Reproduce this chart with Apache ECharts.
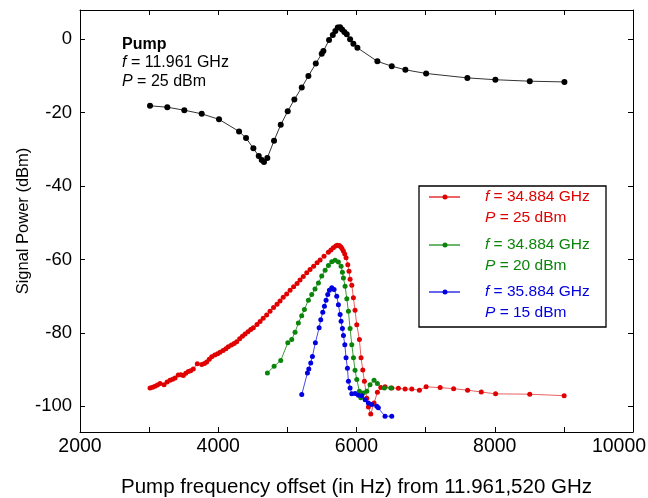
<!DOCTYPE html>
<html>
<head>
<meta charset="utf-8">
<script src="https://cdn.jsdelivr.net/npm/echarts@6.0.0/dist/echarts.min.js"></script>
<style>
  html, body { margin: 0; padding: 0; background: #fff; }
  #chart { width: 648px; height: 498px; }
</style>
</head>
<body>
<div id="chart"></div>
<script>
// pump (black)
var pumpX = [3013, 3263, 3509, 3761, 4011, 4301, 4402, 4508, 4586, 4629, 4662, 4710, 4807, 4904, 5005, 5101, 5208, 5304, 5411, 5497, 5521, 5603, 5657, 5694, 5729, 5762, 5791, 5824, 5859, 5907, 5955, 6013, 6302, 6510, 6707, 7007, 7604, 8009, 8507, 9008];
var pumpY = [-18.1, -18.5, -19.3, -20.3, -21.8, -25.1, -26.9, -29.7, -31.8, -32.9, -33.4, -32.3, -27.6, -23.3, -19.6, -16.4, -13.1, -10.0, -6.6, -3.9, -3.2, -0.2, 1.2, 2.3, 3.2, 3.3, 2.7, 2.0, 1.4, 0, -1.2, -2.3, -6.0, -7.3, -8.3, -9.3, -10.5, -11.0, -11.4, -11.6];

// f = 34.884 GHz, P = 25 dBm (red)
var redX = [3013, 3050, 3085, 3120, 3158, 3216, 3260, 3302, 3340, 3375, 3422, 3460, 3495, 3530, 3567, 3600, 3639, 3697, 3761, 3800, 3833, 3870, 3906, 3950, 3990, 4026, 4070, 4110, 4146, 4190, 4230, 4267, 4310, 4350, 4388, 4430, 4470, 4508, 4560, 4605, 4650, 4700, 4749, 4800, 4850, 4894, 4940, 4990, 5039, 5090, 5140, 5183, 5230, 5280, 5328, 5380, 5430, 5473, 5530, 5593, 5630, 5665, 5700, 5723, 5750, 5772, 5790, 5810, 5830, 5849, 5874, 5892, 5907, 5932, 5955, 5979, 6004, 6042, 6066, 6091, 6114, 6149, 6172, 6206, 6254, 6302, 6351, 6413, 6510, 6606, 6703, 6800, 6910, 7007, 7210, 7405, 7607, 7805, 8012, 8506, 9004];
var redY = [-95.0, -94.8, -94.5, -94.2, -93.8, -94.1, -93.4, -92.9, -92.6, -92.3, -91.5, -91.4, -91.6, -91.0, -90.5, -90.3, -89.8, -88.4, -88.6, -88.3, -87.9, -87.2, -86.5, -86.0, -85.7, -85.3, -84.8, -84.3, -83.8, -83.3, -82.9, -82.4, -81.6, -80.9, -80.3, -79.7, -79.1, -78.6, -77.7, -76.9, -76.0, -75.1, -74.1, -73.1, -72.2, -71.3, -70.3, -69.4, -68.4, -67.4, -66.5, -65.6, -64.6, -63.6, -62.7, -61.8, -60.9, -60.1, -59.1, -58.0, -57.4, -56.8, -56.3, -56.1, -56.2, -56.5, -57.0, -57.7, -58.5, -59.5, -61.4, -63.2, -65.4, -67.0, -70.4, -73.8, -77.8, -81.8, -86.8, -90.1, -93.2, -97.8, -100.2, -102.1, -99.1, -96.2, -94.9, -94.7, -95.0, -95.1, -95.3, -95.3, -95.6, -94.7, -94.9, -95.2, -95.6, -96.1, -96.6, -96.7, -97.1];

// f = 34.884 GHz, P = 20 dBm (green)
var greenX = [4711, 4808, 4904, 5006, 5063, 5111, 5159, 5207, 5246, 5304, 5352, 5400, 5449, 5497, 5546, 5594, 5642, 5690, 5738, 5777, 5796, 5811, 5835, 5860, 5883, 5907, 5932, 5956, 5979, 6004, 6042, 6062, 6099, 6149, 6196, 6254, 6302, 6403, 6496];
var greenY = [-90.9, -89.1, -87.5, -82.7, -81.8, -79.8, -77.3, -75.3, -73.6, -71.1, -69.5, -68.0, -66.4, -64.5, -62.9, -61.6, -60.6, -60.2, -60.7, -61.8, -63.5, -65.0, -67.3, -70.7, -74.1, -78.8, -83.2, -86.8, -90.2, -92.7, -95.9, -97.7, -96.4, -95.9, -94.1, -92.9, -93.8, -95.0, -95.0];

// f = 35.884 GHz, P = 15 dBm (blue)
var blueX = [5208, 5290, 5310, 5338, 5362, 5405, 5459, 5483, 5512, 5536, 5560, 5584, 5608, 5642, 5676, 5714, 5738, 5763, 5777, 5796, 5811, 5831, 5849, 5869, 5883, 5907, 5932, 5981, 6028, 6076, 6125, 6172, 6221, 6293, 6316, 6413, 6510];
var blueY = [-96.8, -90.9, -89.8, -88.2, -86.4, -82.7, -78.6, -76.4, -74.4, -72.7, -71.1, -69.5, -68.4, -67.7, -68.2, -70.0, -72.3, -75.0, -76.8, -78.8, -80.7, -83.2, -86.8, -89.6, -93.2, -95.0, -96.6, -96.5, -97.0, -97.1, -98.2, -99.1, -99.5, -100.0, -100.4, -102.7, -102.7];

var yTicks = [-100, -80, -60, -40, -20, 0];

function zip(xs, ys) {
  return xs.map(function (x, i) { return [x, ys[i]]; });
}

var fontFam = 'Liberation Sans, Arial, Helvetica, sans-serif';

function serie(name, xs, ys, lineColor, dotColor, size) {
  return {
    name: name,
    type: 'line',
    data: zip(xs, ys),
    symbol: 'circle',
    symbolSize: size,
    showSymbol: true,
    lineStyle: { color: lineColor, width: 1 },
    itemStyle: { color: dotColor },
    emphasis: { disabled: true },
    animation: false
  };
}

// legend entry (line + dot + two text rows)
function entry(y, color, line1, line2) {
  var txt = function (t, ty) {
    return { type: 'text', x: 485, y: ty, style: { text: t, rich: { i: { fontStyle: 'italic', fontSize: 15.5, fill: color, fontFamily: fontFam } }, fill: color, fontSize: 15.5, fontFamily: fontFam, verticalAlign: 'middle' } };
  };
  return [
    { type: 'line', shape: { x1: 429, y1: y, x2: 460, y2: y }, style: { stroke: color, lineWidth: 1.2 } },
    { type: 'circle', shape: { cx: 445, cy: y, r: 2.5 }, style: { fill: color } },
    txt(line1, y),
    txt(line2, y + 21)
  ];
}

var chart = echarts.init(document.getElementById('chart'));

var xBase = {
  type: 'value', min: 2000, max: 10000, interval: 1000,
  axisLine: { onZero: false, lineStyle: { color: '#000', width: 1 } },
  axisTick: { inside: true, length: 5, lineStyle: { color: '#000' } },
  splitLine: { show: false }
};
var yBase = {
  type: 'value', min: -107, max: 8,
  axisLine: { show: true, onZero: false, lineStyle: { color: '#000', width: 1 } },
  axisTick: { show: true, inside: true, length: 5, customValues: yTicks, lineStyle: { color: '#000' } },
  splitLine: { show: false }
};

var graphics = [
  { type: 'rect', shape: { x: 419, y: 186, width: 187, height: 141 }, style: { fill: '#fff', stroke: '#000', lineWidth: 1.3 }, z: 90 },
  { type: 'text', x: 122, y: 45, style: { text: 'Pump', fontSize: 16, fontWeight: 'bold', fill: '#000', fontFamily: fontFam, verticalAlign: 'middle' } },
  { type: 'text', x: 122, y: 63, style: { text: '{i|f} = 11.961 GHz', rich: { i: { fontStyle: 'italic', fontSize: 16, fontFamily: fontFam } }, fontSize: 16, fill: '#000', fontFamily: fontFam, verticalAlign: 'middle' } },
  { type: 'text', x: 122, y: 82, style: { text: '{i|P} = 25 dBm', rich: { i: { fontStyle: 'italic', fontSize: 16, fontFamily: fontFam } }, fontSize: 16, fill: '#000', fontFamily: fontFam, verticalAlign: 'middle' } }
];
graphics = graphics
  .concat(entry(197, '#e00000', '{i|f} = 34.884 GHz', '{i|P} = 25 dBm'))
  .concat(entry(245, '#0a850a', '{i|f} = 34.884 GHz', '{i|P} = 20 dBm'))
  .concat(entry(292, '#0000e0', '{i|f} = 35.884 GHz', '{i|P} = 15 dBm'));
graphics.forEach(function (g) { if (g.z == null) g.z = 100; });

chart.setOption({
  animation: false,
  textStyle: { fontFamily: fontFam },
  grid: { left: 80, right: 15, top: 10, bottom: 66, containLabel: false, outerBoundsMode: 'none' },
  xAxis: [
    Object.assign({}, xBase, {
      position: 'bottom',
      name: 'Pump frequency offset (in Hz) from 11.961,520 GHz',
      nameLocation: 'middle', nameGap: 45, nameMoveOverlap: false,
      nameTextStyle: { fontSize: 20.5, color: '#000', fontFamily: fontFam },
      axisLabel: {
        fontSize: 19.5, color: '#000', margin: 5, fontFamily: fontFam,
        formatter: function (v) {
          if (v === 10000) return '{r|10000}';
          return v % 2000 === 0 ? String(v) : '';
        },
        rich: { r: { fontSize: 19.5, color: '#000', fontFamily: fontFam, padding: [0, 28, 0, 0] } }
      }
    }),
    Object.assign({}, xBase, { position: 'top', axisLabel: { show: false } })
  ],
  yAxis: [
    Object.assign({}, yBase, {
      position: 'left',
      name: 'Signal Power (dBm)',
      nameLocation: 'middle', nameGap: 48, nameMoveOverlap: false,
      nameTextStyle: { fontSize: 16.5, color: '#000', fontFamily: fontFam },
      axisLabel: { fontSize: 18.5, color: '#000', margin: 8, fontFamily: fontFam, customValues: yTicks }
    }),
    Object.assign({}, yBase, { position: 'right', axisLabel: { show: false } })
  ],
  series: [
    serie('Pump', pumpX, pumpY, '#333', '#000', 6),
    serie('red', redX, redY, '#e86060', '#e00000', 5),
    serie('green', greenX, greenY, '#3c9c3c', '#0a850a', 5),
    serie('blue', blueX, blueY, '#4848e8', '#0000e0', 5)
  ],
  graphic: graphics
});
</script>
</body>
</html>
